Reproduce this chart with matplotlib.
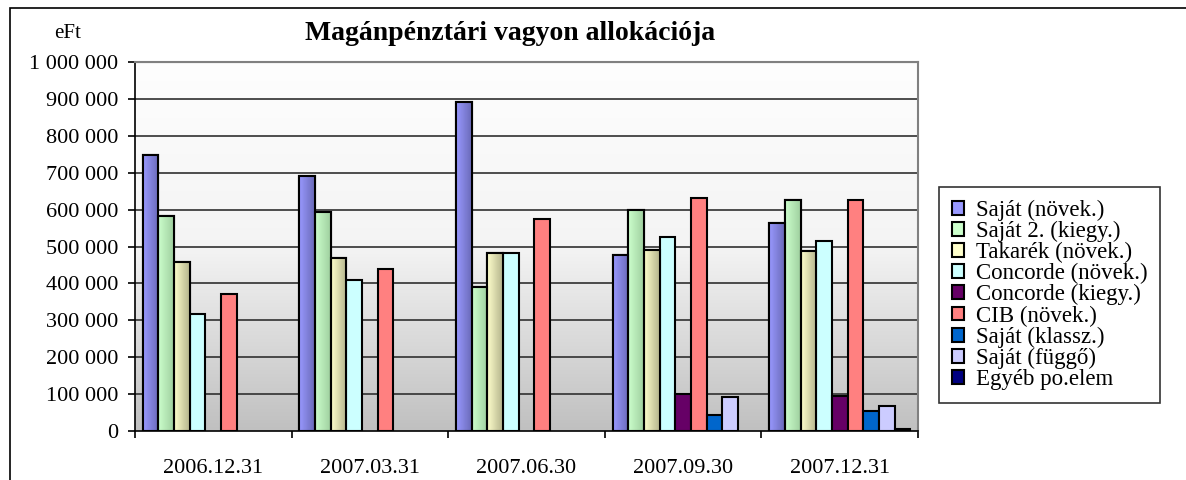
import numpy as np
import matplotlib
matplotlib.use("Agg")
import matplotlib.pyplot as plt
from matplotlib.patches import Rectangle
from matplotlib.colors import LinearSegmentedColormap

plt.rcParams['font.family'] = ['Liberation Serif', 'DejaVu Serif']

dates = ['2006.12.31', '2007.03.31', '2007.06.30', '2007.09.30', '2007.12.31']
series = ['Saját (növek.)', 'Saját 2. (kiegy.)', 'Takarék (növek.)',
          'Concorde (növek.)', 'Concorde (kiegy.)', 'CIB (növek.)',
          'Saját (klassz.)', 'Saját (függő)', 'Egyéb po.elem']
nan = np.nan
sajat_novek = [748000, 690000, 892000, 477000, 564000]
sajat2_kiegy = [583000, 593000, 390000, 598000, 626000]
takarek_novek = [458000, 468000, 482000, 491000, 487000]
concorde_novek = [318000, 410000, 482000, 525000, 516000]
concorde_kiegy = [nan, nan, nan, 101000, 96000]
cib_novek = [371000, 439000, 574000, 632000, 626000]
sajat_klassz = [nan, nan, nan, 43000, 54000]
sajat_fuggo = [nan, nan, nan, 92000, 68000]
egyeb = [nan, nan, nan, nan, 5000]
values = [sajat_novek, sajat2_kiegy, takarek_novek, concorde_novek, concorde_kiegy,
          cib_novek, sajat_klassz, sajat_fuggo, egyeb]

colors = ['#9999FF', '#CCFFCC', '#FFFFCC', '#CCFFFF', '#660066',
          '#FF8080', '#0066CC', '#CCCCFF', '#000080']
dark = {0: '#6a6ab8', 1: '#9fcf9f', 2: '#b3b38c'}

fig = plt.figure(figsize=(11.86, 4.8), dpi=100)
fig.patches.append(Rectangle((10 / 1186, -0.1), 1.2, 1.1 - 8 / 480,
                             transform=fig.transFigure, fill=False,
                             edgecolor='black', lw=1.2))
ax = fig.add_axes([135 / 1186, 49 / 480, 783 / 1186, 369 / 480])

# plot area background gradient
grad = np.linspace(0, 1, 256).reshape(-1, 1)
bg = LinearSegmentedColormap.from_list('bg', ['#fefefe', '#f4f4f4', '#c0c0c0'])
ax.imshow(grad, extent=[0, 1, 0, 1], transform=ax.transAxes, cmap=bg,
          aspect='auto', zorder=0, origin='upper')

n = len(series)
w = 1.0 / (n + 1)
x = np.arange(len(dates))
for i, (name, vals) in enumerate(zip(series, values)):
    pos = x + (i - (n - 1) / 2) * w
    bars = ax.bar(pos, vals, width=w, color=colors[i], edgecolor='black',
                  linewidth=1.5, label=name, zorder=3)
    if i in dark:
        cm = LinearSegmentedColormap.from_list('g%d' % i, [colors[i], dark[i]])
        hg = np.linspace(0, 1, 64).reshape(1, -1)
        for b, v in zip(bars, vals):
            if np.isnan(v):
                continue
            im = ax.imshow(hg, extent=[b.get_x(), b.get_x() + b.get_width(), 0, v],
                           cmap=cm, aspect='auto', zorder=3.5)
            im.set_clip_path(b)
            ax.bar(b.get_x() + b.get_width() / 2, v, width=w, fill=False,
                   edgecolor='black', linewidth=1.5, zorder=4)

ax.set_xlim(-0.5, len(dates) - 0.5)
ax.set_ylim(0, 1000000)
yt = np.arange(0, 1000001, 100000)
ax.set_yticks(yt)
ax.set_yticklabels(['{:,}'.format(v).replace(',', ' ') for v in yt], fontsize=16)
for v in yt[1:-1]:
    ax.axhline(v, color='#303030', lw=1.2, zorder=1)
ax.axhline(1000000, color='#808080', lw=1.5, zorder=1)

ax.set_xticks(np.arange(len(dates) + 1) - 0.5)
ax.set_xticklabels([])
ax.set_xticks(x, minor=True)
ax.set_xticklabels(dates, minor=True, fontsize=16)
ax.tick_params(axis='x', which='minor', length=0, pad=20)
ax.tick_params(axis='x', which='major', direction='out', length=5, width=1.2)
ax.tick_params(axis='y', direction='out', length=5, width=1.2, pad=7)
for s in ['left', 'bottom']:
    ax.spines[s].set_color('black')
    ax.spines[s].set_linewidth(1.2)
ax.spines['top'].set_color('#808080')
ax.spines['right'].set_color('#808080')
ax.spines['top'].set_linewidth(1.5)
ax.spines['right'].set_linewidth(1.5)
ax.set_zorder(2)

fig.text(68 / 1186, 1 - 33 / 480, 'eFt', fontsize=15, ha='center', va='center')
fig.text(510 / 1186, 1 - 33 / 480, 'Magánpénztári vagyon allokációja',
         fontsize=20, fontweight='bold', ha='center', va='center')

leg = ax.legend(loc='upper left', bbox_to_anchor=(939 / 1186, 1 - 187 / 480),
                bbox_transform=fig.transFigure, fontsize=16.5, frameon=True,
                fancybox=False, edgecolor='black', handlelength=0.55,
                handleheight=0.55, handletextpad=0.5, labelspacing=0.0,
                borderpad=0.55, borderaxespad=0)
leg.get_frame().set_linewidth(1.2)

fig.savefig('out.png', dpi=100)
